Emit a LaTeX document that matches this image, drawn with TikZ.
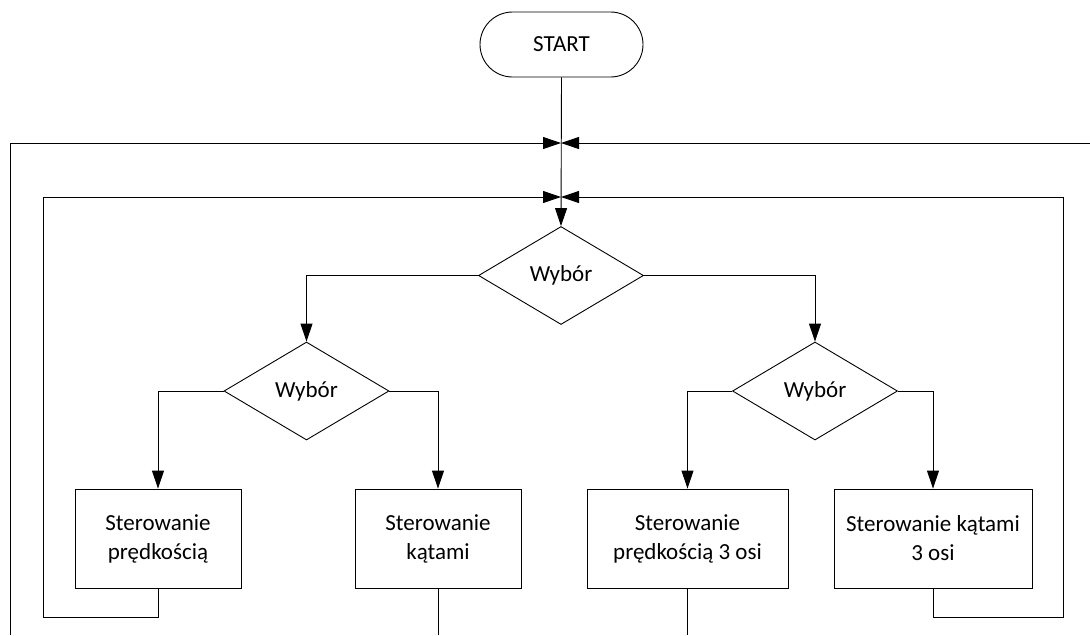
\documentclass[tikz,border=0pt]{standalone}
\usepackage{fontspec}
\setmainfont{Carlito}
\usetikzlibrary{shapes.geometric,arrows.meta}
\tikzset{
  x=1pt,y=-1pt,
  every node/.style={font=\fontsize{23}{29}\selectfont, align=center, inner sep=0pt},
  line/.style={draw=black, line width=0.9pt},
  arr/.style={line, -{Triangle[length=18pt,width=12pt]}},
  term/.style={line, rectangle, rounded corners=32.5pt, minimum width=163pt, minimum height=65pt},
  decision/.style={line, diamond, minimum width=165pt, minimum height=98pt},
  proc/.style={line, rectangle, minimum height=99pt}
}
\begin{document}
\begin{tikzpicture}
\useasboundingbox (0,0) rectangle (1090,635);
\node[term] (start) at (561.5,44.5) {START};
\node[decision] (d0) at (561,275.5) {Wybór};
\node[decision] (d1) at (306.5,391) {Wybór};
\node[decision] (d2) at (815,391) {Wybór};
\node[proc, minimum width=166pt] (b1) at (158,538.5) {Sterowanie\\prędkością};
\node[proc, minimum width=166pt] (b2) at (438,538.5) {Sterowanie\\kątami};
\node[proc, minimum width=201pt] (b3) at (687.5,538.5) {Sterowanie\\prędkością 3 osi};
\node[proc, minimum width=198pt] (b4) at (933,538.5) {Sterowanie kątami\\3 osi};

\coordinate (m1) at (561,143);
\coordinate (m2) at (561,197);
\coordinate (oL) at (10,635);
\coordinate (oR) at (1090,143);
\coordinate (ilb) at (43,617);
\coordinate (irb) at (1063,617);
\coordinate (bot) at (0,635);

\draw[arr] (start.south) -- (d0.north);
\draw[arr] (d0.west) -| (d1.north);
\draw[arr] (d0.east) -| (d2.north);
\draw[arr] (d1.west) -| (b1.north);
\draw[arr] (d1.east) -| (b2.north);
\draw[arr] (d2.west) -| (b3.north);
\draw[arr] (d2.east) -| (b4.north);

\draw[arr] (oL) |- (m1);
\draw[arr] (oR) -- (m1);
\draw[arr] (b1.south) |- (ilb) |- (m2);
\draw[arr] (b4.south) |- (irb) |- (m2);
\draw[line] (b2.south) -- (b2.south |- bot);
\draw[line] (b3.south) -- (b3.south |- bot);
\end{tikzpicture}
\end{document}
